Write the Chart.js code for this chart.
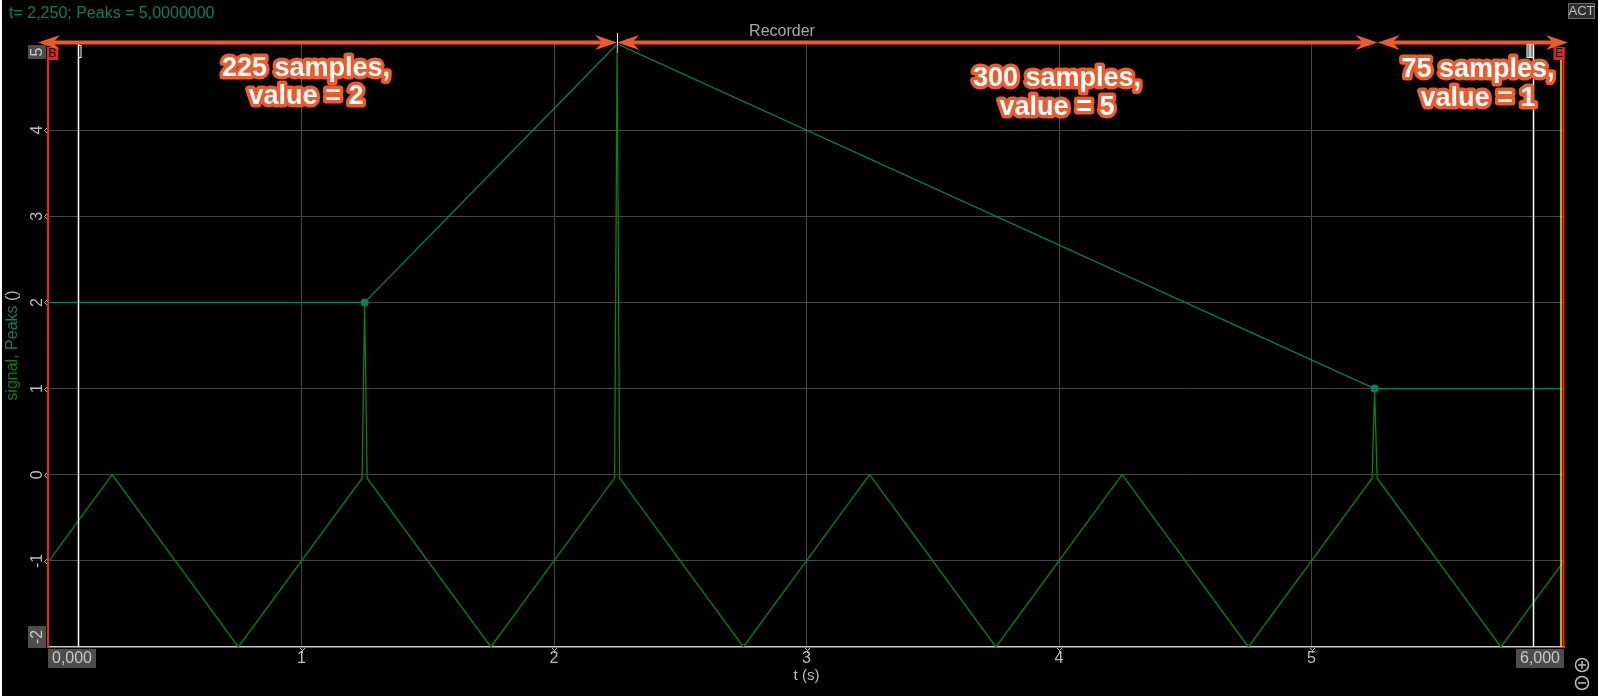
<!DOCTYPE html>
<html>
<head>
<meta charset="utf-8">
<script src="https://cdn.jsdelivr.net/npm/chart.js@4"></script>
<style>
  html, body { margin: 0; padding: 0; background: #fff; }
  #wrap { position: absolute; left: 0; top: 0; width: 1600px; height: 696px; }
  canvas { display: block; }
</style>
</head>
<body>
<div id="wrap"><canvas id="c" width="1600" height="696"></canvas></div>
<script>
// ---- data ----
const signalT = [0, 0.25, 0.75, 1.24, 1.25, 1.26, 1.75, 2.24, 2.25, 2.26, 2.75, 3.25, 3.75, 4.25, 4.75, 5.24, 5.25, 5.26, 5.75, 6];
const signalV = [-1, 0, -2, -0.04, 2, -0.04, -2, -0.04, 5, -0.04, -2, 0, -2, 0, -2, -0.04, 1, -0.04, -2, -1];
const peaksT = [0, 1.25, 2.25, 5.25, 6];
const peaksV = [2, 2, 5, 1, 1];
const peaksMarker = [0, 4, 0, 4, 0];
const xTickLabels = ['1', '2', '3', '4', '5'];
const xTickValues = [1, 2, 3, 4, 5];
const yTickValues = [-1, 0, 1, 2, 3, 4];
const yTickLabels = ['-1', '0', '1', '2', '3', '4'];
const xEndLabels = ['0,000', '6,000'];
const yEndLabels = ['-2', '5'];
const segBounds = [0, 2.25, 5.25, 6];
const segLabels = [['225 samples,', 'value = 2'], ['300 samples,', 'value = 5'], ['75 samples,', 'value = 1']];
const headerText = 't= 2,250; Peaks = 5,0000000';

const FONT = '"Liberation Sans", Arial, sans-serif';
const GREEN = '#0b7f14';
const TEAL = '#0a7f5c';
const ORANGE = '#ef5a2a';

function pts(t, v) { return t.map((x, i) => ({ x: x, y: v[i] })); }

function arrowHead(ctx, tipX, y, dir) {
  ctx.beginPath();
  ctx.moveTo(tipX, y);
  ctx.lineTo(tipX - dir * 22, y - 7.5);
  ctx.lineTo(tipX - dir * 15, y);
  ctx.lineTo(tipX - dir * 22, y + 7.5);
  ctx.closePath();
  ctx.fill();
}

const overlay = {
  id: 'overlay',
  beforeDraw(chart) {
    const ctx = chart.ctx;
    ctx.save();
    ctx.fillStyle = '#000';
    ctx.fillRect(0, 0, chart.width, chart.height);
    ctx.restore();
  },
  afterDraw(chart) {
    const ctx = chart.ctx;
    const xs = chart.scales.x, ys = chart.scales.y;
    const area = chart.chartArea;
    ctx.save();

    // --- cursors ---
    const xB = xs.getPixelForValue(0) - 1;
    const xE = xs.getPixelForValue(6) - 0.5;
    ctx.strokeStyle = '#ffffff';
    ctx.lineWidth = 1.5;
    [0.114, 5.876].forEach(t => {
      const px = Math.round(xs.getPixelForValue(t)) + 0.5;
      ctx.beginPath(); ctx.moveTo(px, 44); ctx.lineTo(px, area.bottom); ctx.stroke();
    });
    const w1 = Math.round(xs.getPixelForValue(0.114)) + 0.5;
    ctx.lineWidth = 1;
    ctx.strokeRect(w1, 45.5, 2.5, 12);
    const w2 = Math.round(xs.getPixelForValue(5.876)) + 0.5;
    ctx.fillStyle = '#888';
    ctx.fillRect(w2 - 6, 45, 6, 12);
    ctx.strokeRect(w2 - 6.5, 44.5, 6.5, 13);
    ctx.beginPath(); ctx.moveTo(w2 - 3.5, 45); ctx.lineTo(w2 - 3.5, 57); ctx.stroke();
    ctx.strokeStyle = '#ffe600';
    ctx.lineWidth = 1.5;
    ctx.beginPath(); ctx.moveTo(xE - 2.5, 60); ctx.lineTo(xE - 2.5, area.bottom); ctx.stroke();
    ctx.strokeStyle = '#ff1a1a';
    ctx.lineWidth = 2;
    ctx.beginPath(); ctx.moveTo(xB, 47); ctx.lineTo(xB, area.bottom + 1); ctx.stroke();
    ctx.beginPath(); ctx.moveTo(xE, 47); ctx.lineTo(xE, area.bottom + 1); ctx.stroke();
    ctx.fillStyle = '#ff1a1a';
    ctx.fillRect(xB - 1, 47, 11, 13);
    ctx.fillRect(xE - 10, 47, 11, 13);
    ctx.fillStyle = '#000';
    ctx.font = '12px ' + FONT;
    ctx.textAlign = 'center'; ctx.textBaseline = 'middle';
    ctx.fillText('B', xB + 4.5, 54);
    ctx.fillText('E', xE - 4.5, 54);
    const xc = Math.round(xs.getPixelForValue(2.25)) + 0.5;
    ctx.lineWidth = 1;
    ctx.strokeStyle = '#ffffff';
    ctx.beginPath(); ctx.moveTo(xc, 33); ctx.lineTo(xc, 44); ctx.stroke();
    ctx.strokeStyle = '#e58be5';
    ctx.beginPath(); ctx.moveTo(xc, 44); ctx.lineTo(xc, 53); ctx.stroke();

    // --- axis tick marks ---
    ctx.strokeStyle = '#bdbdbd';
    ctx.lineWidth = 1;
    xTickValues.forEach(v => {
      const px = Math.round(xs.getPixelForValue(v)) + 0.5;
      ctx.beginPath();
      ctx.moveTo(px - 2.5, area.bottom + 1); ctx.lineTo(px, area.bottom + 3.5); ctx.lineTo(px + 2.5, area.bottom + 1);
      ctx.moveTo(px, area.bottom + 3.5); ctx.lineTo(px, area.bottom + 6);
      ctx.stroke();
    });
    yTickValues.forEach(v => {
      const py = Math.round(ys.getPixelForValue(v)) + 0.5;
      ctx.beginPath();
      ctx.moveTo(area.left - 2, py - 2.5); ctx.lineTo(area.left - 4.5, py); ctx.lineTo(area.left - 2, py + 2.5);
      ctx.stroke();
    });

    // --- x tick labels ---
    ctx.fillStyle = '#bdbdbd';
    ctx.font = '16px ' + FONT;
    ctx.textAlign = 'center'; ctx.textBaseline = 'top';
    xTickValues.forEach((v, i) => {
      ctx.fillText(xTickLabels[i], xs.getPixelForValue(v), area.bottom + 4);
    });
    ctx.fillStyle = '#4d4d4d';
    ctx.fillRect(area.left - 1, area.bottom + 2, 48, 19);
    ctx.fillRect(area.right - 48, area.bottom + 2, 48, 19);
    ctx.fillStyle = '#c8c8c8';
    ctx.textBaseline = 'middle';
    ctx.fillText(xEndLabels[0], area.left + 23, area.bottom + 12);
    ctx.fillText(xEndLabels[1], area.right - 24, area.bottom + 12);

    // --- y tick labels (rotated) ---
    ctx.font = '16px ' + FONT;
    ctx.fillStyle = '#bdbdbd';
    yTickValues.forEach((v, i) => {
      ctx.save();
      ctx.translate(38, ys.getPixelForValue(v));
      ctx.rotate(-Math.PI / 2);
      ctx.textAlign = 'center'; ctx.textBaseline = 'middle';
      ctx.fillText(yTickLabels[i], 0, 0);
      ctx.restore();
    });
    ctx.fillStyle = '#4d4d4d';
    ctx.fillRect(28, area.top + 1, 18, 14);
    ctx.fillRect(28, area.bottom - 21, 18, 22);
    ctx.fillStyle = '#c8c8c8';
    [[yEndLabels[1], area.top + 8], [yEndLabels[0], area.bottom - 10]].forEach(([s, y]) => {
      ctx.save();
      ctx.translate(38, y);
      ctx.rotate(-Math.PI / 2);
      ctx.textAlign = 'center'; ctx.textBaseline = 'middle';
      ctx.fillText(s, 0, 0);
      ctx.restore();
    });

    // --- axis titles ---
    ctx.fillStyle = '#bdbdbd';
    ctx.font = '15px ' + FONT;
    ctx.textAlign = 'center'; ctx.textBaseline = 'middle';
    ctx.fillText('t (s)', (area.left + area.right) / 2, 676);
    const parts = [['signal,', GREEN], [' Peaks ', TEAL], ['()', '#bdbdbd']];
    ctx.font = '16px ' + FONT;
    const totalW = parts.reduce((a, p) => a + ctx.measureText(p[0]).width, 0);
    ctx.save();
    ctx.translate(13, (area.top + area.bottom) / 2);
    ctx.rotate(-Math.PI / 2);
    ctx.textAlign = 'left'; ctx.textBaseline = 'middle';
    let cx = -totalW / 2;
    parts.forEach(([s, c]) => {
      ctx.fillStyle = c;
      ctx.fillText(s, cx, 0);
      cx += ctx.measureText(s).width;
    });
    ctx.restore();

    // --- header text ---
    ctx.fillStyle = TEAL;
    ctx.font = '16px ' + FONT;
    ctx.textAlign = 'left'; ctx.textBaseline = 'alphabetic';
    ctx.fillText(headerText, 9, 18);

    ctx.fillStyle = '#a8a8a8';
    ctx.font = '16px ' + FONT;
    ctx.textAlign = 'center';
    ctx.fillText('Recorder', 782, 36);

    // ACT box
    ctx.fillStyle = '#2e2e2e';
    ctx.fillRect(1568, 3, 27, 16);
    ctx.strokeStyle = '#6a6a6a';
    ctx.lineWidth = 1;
    ctx.strokeRect(1568.5, 3.5, 26, 15);
    ctx.fillStyle = '#c0c0c0';
    ctx.font = '13px ' + FONT;
    ctx.textBaseline = 'middle';
    ctx.fillText('ACT', 1581.5, 11.5);

    // zoom icons
    ctx.strokeStyle = '#bdbdbd';
    ctx.lineWidth = 1.5;
    [[665, true], [683, false]].forEach(([cy, plus]) => {
      ctx.beginPath(); ctx.arc(1582, cy, 6.5, 0, Math.PI * 2); ctx.stroke();
      ctx.beginPath(); ctx.moveTo(1578, cy); ctx.lineTo(1586, cy);
      if (plus) { ctx.moveTo(1582, cy - 4); ctx.lineTo(1582, cy + 4); }
      ctx.stroke();
    });

    // --- orange annotation arrows ---
    const ay = 42.5;
    ctx.strokeStyle = ORANGE;
    ctx.fillStyle = ORANGE;
    ctx.lineWidth = 4;
    for (let i = 0; i < segBounds.length - 1; i++) {
      let x1 = xs.getPixelForValue(segBounds[i]);
      let x2 = xs.getPixelForValue(segBounds[i + 1]);
      if (i === 0) x1 -= 11;
      if (i === segBounds.length - 2) x2 += 4;
      if (i === 2) x1 += 3;
      if (i === 1) x2 += 3;
      ctx.beginPath(); ctx.moveTo(x1 + 12, ay); ctx.lineTo(x2 - 12, ay); ctx.stroke();
      arrowHead(ctx, x1, ay, -1);
      arrowHead(ctx, x2, ay, 1);
    }

    // annotation texts
    const textPos = [[306, 76, 104], [1057, 86, 115], [1478, 77, 106]];
    ctx.font = 'bold 27px ' + FONT;
    ctx.textAlign = 'center'; ctx.textBaseline = 'alphabetic';
    ctx.lineJoin = 'round';
    segLabels.forEach((lines, i) => {
      const [tx, b1, b2] = textPos[i];
      [[lines[0], b1], [lines[1], b2]].forEach(([s, by]) => {
        ctx.strokeStyle = ORANGE;
        ctx.lineWidth = 7;
        ctx.strokeText(s, tx, by);
        ctx.fillStyle = '#ffffff';
        ctx.fillText(s, tx, by);
      });
    });

    // white frame
    ctx.fillStyle = '#ffffff';
    ctx.fillRect(0, 0, 2, chart.height);
    ctx.fillRect(chart.width - 2, 0, 2, chart.height);
    ctx.restore();
  }
};

new Chart(document.getElementById('c'), {
  type: 'line',
  data: {
    datasets: [
      {
        label: 'signal',
        data: pts(signalT, signalV),
        borderColor: GREEN,
        borderWidth: 1.3,
        pointRadius: 0,
        tension: 0
      },
      {
        label: 'Peaks',
        data: pts(peaksT, peaksV),
        borderColor: TEAL,
        backgroundColor: TEAL,
        borderWidth: 1.3,
        pointRadius: peaksMarker,
        pointBorderWidth: 0,
        tension: 0
      }
    ]
  },
  options: {
    responsive: false,
    animation: false,
    devicePixelRatio: 1,
    layout: { padding: { left: 0, top: 44, right: 36, bottom: 0 } },
    plugins: { legend: { display: false }, tooltip: { enabled: false }, title: { display: false } },
    scales: {
      x: {
        type: 'linear', min: 0, max: 6,
        ticks: { display: false, stepSize: 1 },
        grid: {
          color: c => (c.tick && (c.tick.value === 0 || c.tick.value === 6)) ? 'rgba(0,0,0,0)' : '#474747',
          lineWidth: 1, drawTicks: false
        },
        border: { display: true, color: '#c8c8c8', width: 1.5 },
        afterFit: s => { s.height = 49; }
      },
      y: {
        min: -2, max: 5,
        ticks: { display: false, stepSize: 1 },
        grid: {
          color: c => (c.tick && (c.tick.value === -2 || c.tick.value === 5)) ? 'rgba(0,0,0,0)' : '#474747',
          lineWidth: 1, drawTicks: false
        },
        border: { display: false },
        afterFit: s => { s.width = 49; }
      }
    }
  },
  plugins: [overlay]
});
</script>
</body>
</html>
